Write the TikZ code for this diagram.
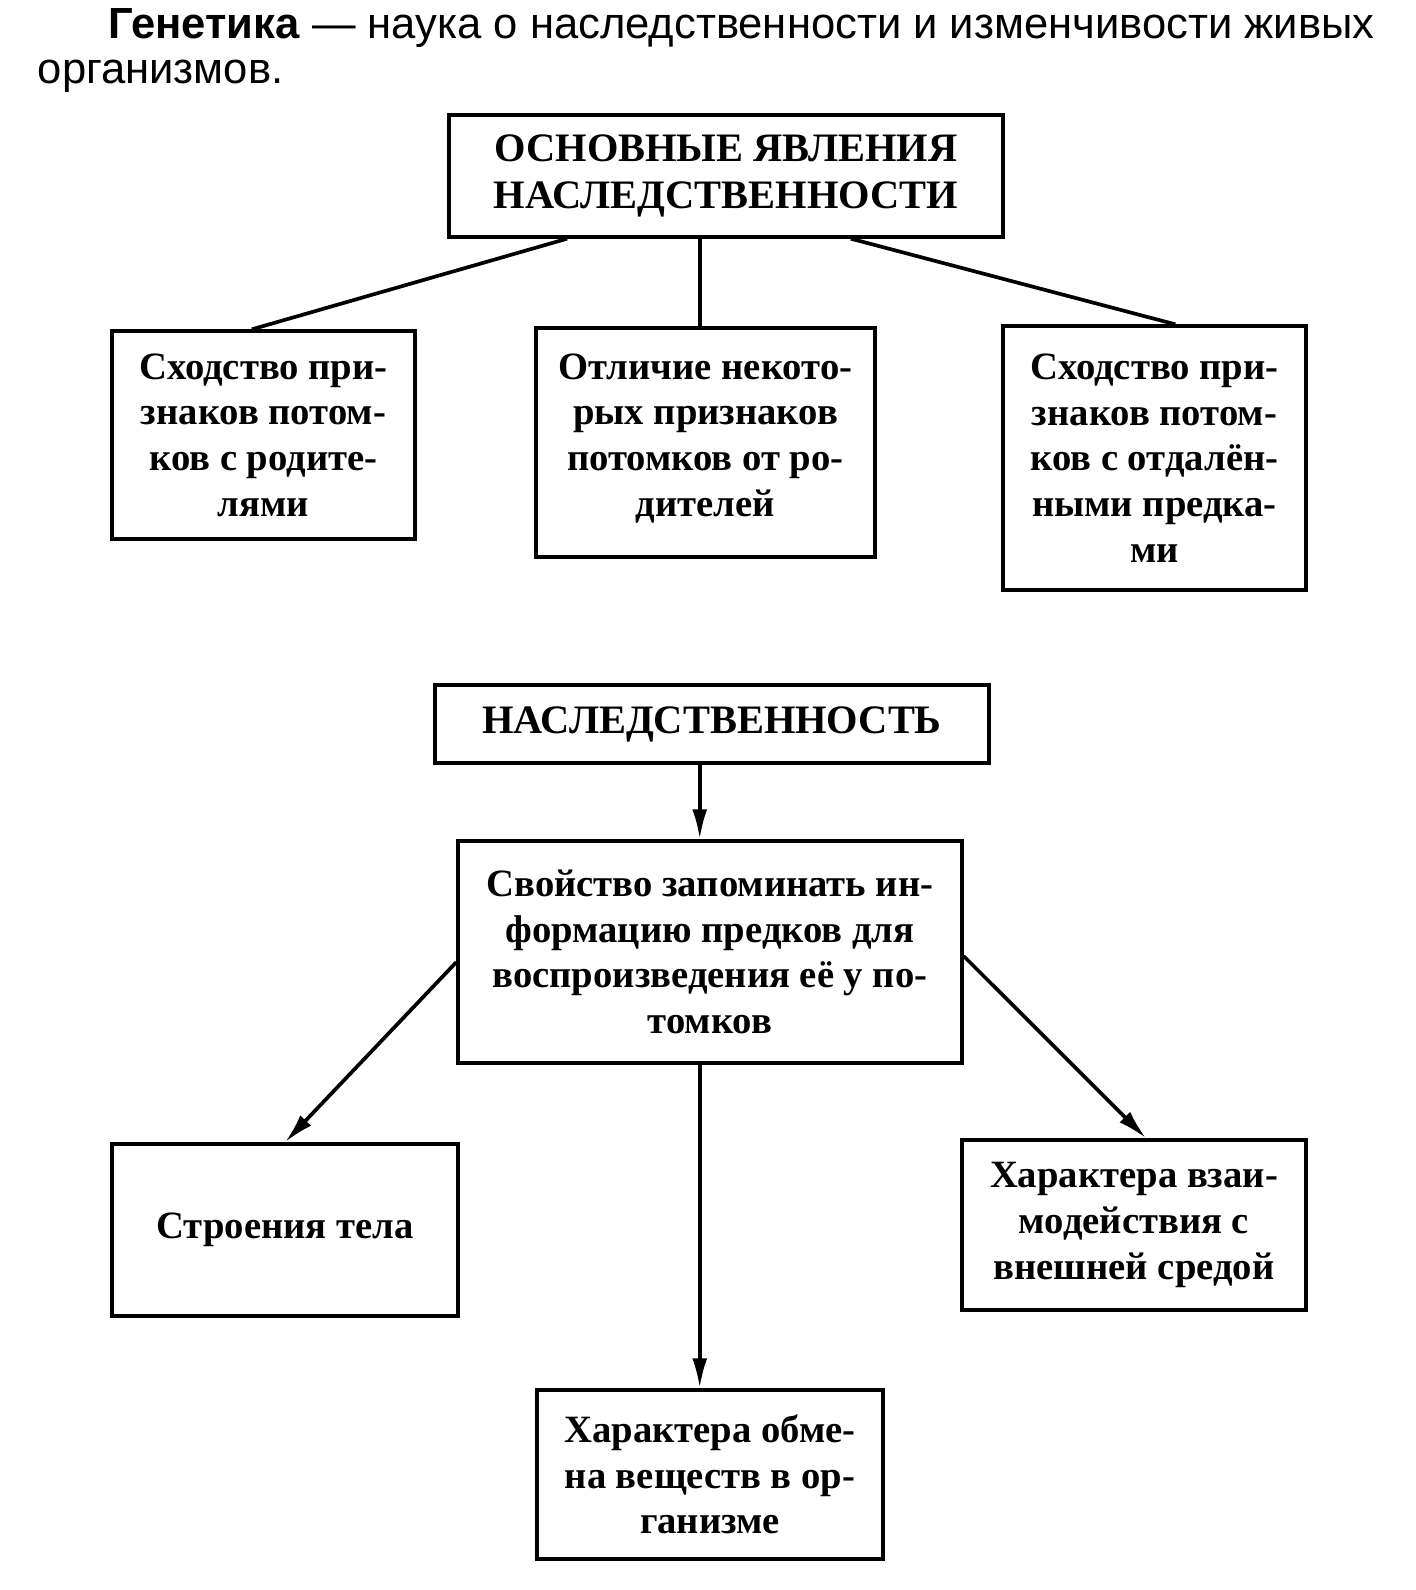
\documentclass[tikz,border=0pt]{standalone}
\usepackage{fontspec}
\setmainfont{Liberation Serif}
\setsansfont{Liberation Sans}
\usetikzlibrary{arrows.meta, calc}

\begin{document}
\begin{tikzpicture}[
    every node/.style={font=\bfseries\fontsize{22}{26}\selectfont},
    box/.style={rectangle, draw, line width=1.9pt, align=center, inner sep=0pt},
    head/.style={box, font=\bfseries\fontsize{23}{27}\selectfont},
    intro/.style={anchor=base west, inner sep=0pt, font=\sffamily\fontsize{24.8}{30}\selectfont},
    link/.style={line width=2.1pt},
    arrow/.style={-{Latex[length=6mm, width=3mm]}, line width=2.1pt}
  ]
  \useasboundingbox (0,0) rectangle (28.32,-31.8);

  % Intro text
  \node[intro] (def1) at (2.17,-0.76) {\textbf{Генетика} --- наука о наследственности и изменчивости живых};
  \node[intro] (def2) at (0.75,-1.66) {организмов.};

  % Top part: phenomena of heredity
  \node[head, minimum width=11.08cm, minimum height=2.44cm] (phen) at (14.52,-3.52)
    {ОСНОВНЫЕ ЯВЛЕНИЯ\\НАСЛЕДСТВЕННОСТИ};
  \node[box, minimum width=6.06cm, minimum height=4.16cm] (same) at (5.27,-8.70)
    {Сходство при-\\знаков потом-\\ков с родите-\\лями};
  \node[box, minimum width=6.78cm, minimum height=4.58cm, text depth=0.3cm] (diff) at (14.11,-8.85)
    {Отличие некото-\\рых признаков\\потомков от ро-\\дителей};
  \node[box, minimum width=6.06cm, minimum height=5.28cm] (far) at (23.09,-9.16)
    {Сходство при-\\знаков потом-\\ков с отдалён-\\ными предка-\\ми};

  % Lower part: heredity
  \node[head, minimum width=11.08cm, minimum height=1.56cm] (her) at (14.24,-14.48)
    {НАСЛЕДСТВЕННОСТЬ};
  \node[box, minimum width=10.08cm, minimum height=4.44cm] (prop) at (14.20,-19.04)
    {Свойство запоминать ин-\\формацию предков для\\воспроизведения её у по-\\томков};
  \node[box, minimum width=6.92cm, minimum height=3.44cm] (body) at (5.70,-24.60)
    {Строения тела};
  \node[box, minimum width=6.88cm, minimum height=3.40cm] (env) at (22.68,-24.50)
    {Характера взаи-\\модействия с\\внешней средой};
  \node[box, minimum width=6.92cm, minimum height=3.38cm] (metab) at (14.20,-29.49)
    {Характера обме-\\на веществ в ор-\\ганизме};

  % Lines from the top box
  \draw[link] ($(phen.south west)!0.215!(phen.south east)$) -- ($(same.north west)!0.462!(same.north east)$);
  \coordinate (pm) at ($(phen.south west)!0.453!(phen.south east)$);
  \draw[link] (pm) -- (pm |- diff.north);
  \draw[link] ($(phen.south west)!0.724!(phen.south east)$) -- ($(far.north west)!0.568!(far.north east)$);

  % Arrows
  \coordinate (hm) at ($(her.south west)!0.478!(her.south east)$);
  \draw[arrow] (hm) -- (hm |- prop.north);
  \draw[arrow] ($(prop.north west)!0.545!(prop.south west)$) -- (body.north);
  \draw[arrow] ($(prop.north east)!0.518!(prop.south east)$) -- ($(env.north west)!0.535!(env.north east)$);
  \coordinate (pb) at (hm |- prop.south);
  \draw[arrow] (pb) -- (pb |- metab.north);

\end{tikzpicture}
\end{document}
